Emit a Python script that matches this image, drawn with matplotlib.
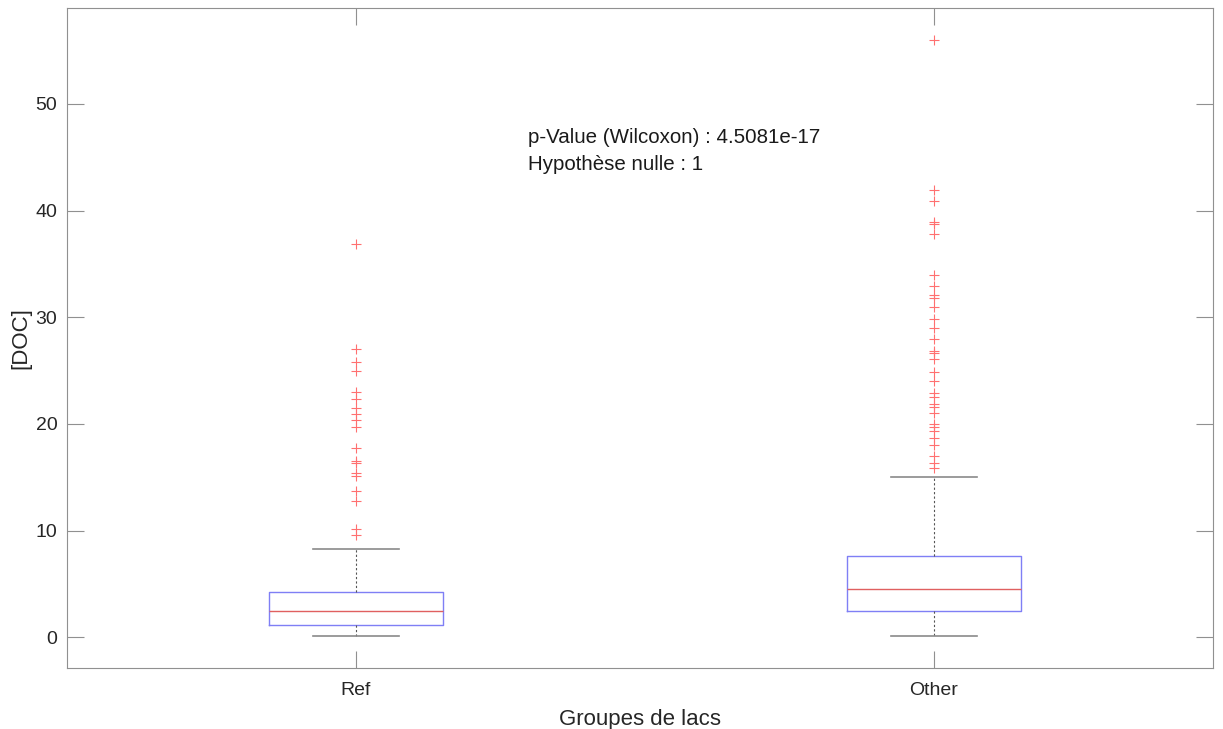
import numpy as np
import matplotlib.pyplot as plt

plt.rcParams['font.family'] = ['Liberation Sans', 'DejaVu Sans']

#%% Donnees
groupes = ["Ref", "Other"]

# statistiques
med = [2.46, 4.54]
q1 = [1.12, 2.43]
q3 = [4.24, 7.62]
whislo = [0.07, 0.09]
whishi = [8.24, 15.04]

outliers_ref = [36.9, 27.0, 25.8, 25.0, 23.0, 22.3, 21.5, 20.9, 20.4, 19.7,
                17.7, 16.5, 16.3, 15.4, 15.1, 13.7, 12.8, 10.1, 9.6]
outliers_other = [56.0, 41.9, 40.9, 38.9, 38.7, 37.8, 34.0, 32.95, 32.1, 31.8,
                  31.0, 29.8, 29.0, 28.0, 26.8, 26.6, 26.1, 24.9, 24.0, 22.9,
                  22.5, 21.9, 21.6, 21.0, 20.0, 19.7, 19.3, 18.7, 18.0, 17.0,
                  16.3, 15.9]
outliers = [outliers_ref, outliers_other]

p_value = "4.5081e-17"
hypothese = 1

#%% Graphique
stats = []
for i in range(len(groupes)):
    stats.append({"med": med[i], "q1": q1[i], "q3": q3[i],
                  "whislo": whislo[i], "whishi": whishi[i],
                  "fliers": outliers[i], "label": groupes[i]})

fig = plt.figure(figsize=(12.23, 7.29), dpi=100)
ax = fig.add_axes([0.0548, 0.0836, 0.9370, 0.9054])

ax.bxp(stats, positions=[1, 2], widths=0.301,
       boxprops=dict(color="#7f7ff5", linewidth=1.0),
       medianprops=dict(color="#e06060", linewidth=1.0),
       whiskerprops=dict(color="#555555", linewidth=0.8, linestyle=(0, (2, 2))),
       capprops=dict(color="#8a8a8a", linewidth=1.2),
       flierprops=dict(marker="+", markeredgecolor="#ff7070", markersize=7,
                       markeredgewidth=0.8, linestyle="none"),
       capwidths=0.149)

ax.set_xlim(0.5, 2.483)
ax.set_ylim(-2.9, 59)
ax.set_yticks([0, 10, 20, 30, 40, 50])
ax.set_xticks([1, 2])
ax.set_xticklabels(groupes)

for s in ax.spines.values():
    s.set_color("#909090")
    s.set_linewidth(0.8)
ax.tick_params(direction="in", length=12, width=0.8, color="#909090",
               labelsize=14, labelcolor="#262626", right=True, top=True, pad=7)
ax.tick_params(axis="x", pad=10)

ax.set_xlabel("Groupes de lacs", fontsize=16, color="#262626", labelpad=7)
ax.set_ylabel("[DOC]", fontsize=16, color="#262626", labelpad=3)

ax.text(1.2976, 46.9, "p-Value (Wilcoxon) : {}".format(p_value), fontsize=14.8,
        va="center", color="#1a1a1a")
ax.text(1.2976, 44.35, "Hypothèse nulle : {}".format(hypothese), fontsize=14.8,
        va="center", color="#1a1a1a")

fig.savefig("out.png", dpi=100)
